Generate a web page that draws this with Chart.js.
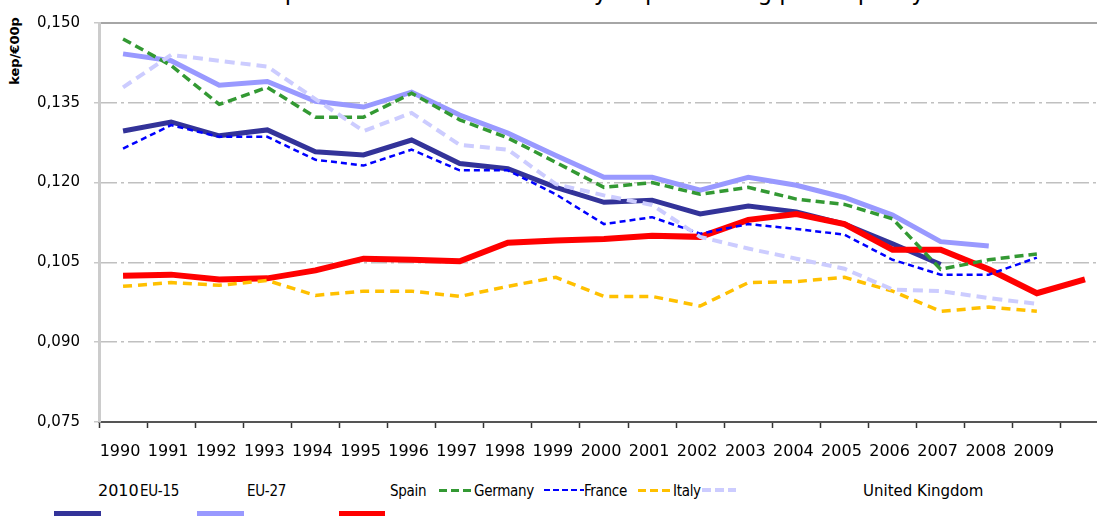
<!DOCTYPE html>
<html>
<head>
<meta charset="utf-8">
<script src="https://cdn.jsdelivr.net/npm/chart.js@4.4.0/dist/chart.umd.min.js"></script>
<style>
  html, body { margin: 0; padding: 0; background: #fff; }
  body { width: 1097px; height: 516px; overflow: hidden; position: relative; font-family: "DejaVu Sans", sans-serif; color: #000; }
  #wrap { position: absolute; left: 0; top: 0; width: 1115px; height: 460px; }
  .title { position: absolute; top: -20px; left: 238px; font-size: 23px; line-height: 24px; white-space: nowrap; }
  .ytitle { position: absolute; left: -35px; top: 43px; width: 100px; height: 16px; line-height: 16px; text-align: center;
            font-size: 13px; font-weight: bold; transform: rotate(-90deg); white-space: nowrap; }
  .lg { position: absolute; top: 482px; font-size: 15px; line-height: 18px; white-space: nowrap; }
  .narrow { font-family: "Liberation Sans Narrow", "DejaVu Sans Condensed", sans-serif; letter-spacing: -0.3px; }
  .dash { position: absolute; top: 489px; height: 3px; }
  .bar { position: absolute; top: 511px; height: 6px; }
</style>
</head>
<body>
<div class="title">Temperature corrected intensity at purchasing power parity</div>
<div class="ytitle">kep/€00p</div>
<div id="wrap"><canvas id="chart" width="1115" height="460"></canvas></div>

<!-- legend row, laid out like the original -->
<div class="lg" style="left:98px;font-size:16px;">2010</div>
<div class="lg narrow" style="left:140px;">EU-15</div>
<div class="lg narrow" style="left:247px;">EU-27</div>
<div class="lg narrow" style="left:390px;">Spain</div>
<div class="dash" style="left:439px;width:35px;background:repeating-linear-gradient(to right,#339933 0 8px,transparent 8px 12px);"></div>
<div class="lg narrow" style="left:474px;">Germany</div>
<div class="dash" style="left:544px;width:40px;height:2px;background:repeating-linear-gradient(to right,#0000ff 0 6px,transparent 6px 9px);"></div>
<div class="lg narrow" style="left:584px;">France</div>
<div class="dash" style="left:638px;width:35px;background:repeating-linear-gradient(to right,#ffc000 0 8px,transparent 8px 12px);"></div>
<div class="lg narrow" style="left:673px;">Italy</div>
<div class="dash" style="left:702px;width:34px;height:4px;top:488px;background:repeating-linear-gradient(to right,#ccccff 0 9px,transparent 9px 13px);"></div>
<div class="lg" style="left:863px;">United Kingdom</div>
<div class="bar" style="left:54px;width:47px;background:#333399;"></div>
<div class="bar" style="left:197px;width:47px;background:#9999ff;"></div>
<div class="bar" style="left:339px;width:46px;background:#ff0000;"></div>

<script>
// 年份
const years = ['1990', '1991', '1992', '1993', '1994', '1995', '1996', '1997', '1998', '1999', '2000',
    '2001', '2002', '2003', '2004', '2005', '2006', '2007', '2008', '2009', '2010'];

// 各國數值 (kep/€00p)
const eu15 = [0.1297, 0.1314, 0.1288, 0.1299, 0.1258, 0.1252, 0.1280, 0.1236, 0.1226, 0.1191, 0.1163,
    0.1167, 0.1141, 0.1156, 0.1145, 0.1122, 0.1085, 0.1046, null, null, null];
const eu27 = [0.1442, 0.1429, 0.1383, 0.1390, 0.1353, 0.1342, 0.1370, 0.1327, 0.1293, 0.1251, 0.1210,
    0.1210, 0.1186, 0.1210, 0.1195, 0.1172, 0.1139, 0.1089, 0.1081, null, null];
const spain = [0.1025, 0.1027, 0.1018, 0.1020, 0.1035, 0.1057, 0.1055, 0.1052, 0.1087, 0.1091, 0.1094,
    0.1100, 0.1098, 0.1130, 0.1141, 0.1122, 0.1074, 0.1074, 0.1037, 0.0992, 0.1018];
const germany = [0.1470, 0.1420, 0.1347, 0.1379, 0.1323, 0.1323, 0.1368, 0.1318, 0.1284, 0.1238, 0.1191,
    0.1200, 0.1178, 0.1191, 0.1169, 0.1159, 0.1132, 0.1037, 0.1055, 0.1066, null];
const france = [0.1264, 0.1308, 0.1286, 0.1286, 0.1243, 0.1232, 0.1262, 0.1223, 0.1223, 0.1178, 0.1122,
    0.1135, 0.1104, 0.1122, 0.1113, 0.1102, 0.1055, 0.1027, 0.1027, 0.1059, null];
const italy = [0.1005, 0.1012, 0.1007, 0.1016, 0.0988, 0.0996, 0.0996, 0.0986, 0.1005, 0.1022, 0.0986,
    0.0986, 0.0968, 0.1012, 0.1014, 0.1022, 0.0996, 0.0958, 0.0966, 0.0958, null];
const uk = [0.1379, 0.1440, 0.1429, 0.1418, 0.1357, 0.1297, 0.1331, 0.1271, 0.1262, 0.1197, 0.1176,
    0.1158, 0.1098, 0.1076, 0.1057, 0.1038, 0.0999, 0.0996, 0.0983, 0.0972, null];

// 軸刻度
const yMin = 0.075;
const yMax = 0.150;
const yStep = 0.015;

function line(label, data, color, width, dash, order) {
    return {
        label: label,
        data: data,
        borderColor: color,
        backgroundColor: color,
        borderWidth: width,
        borderDash: dash,
        pointRadius: 0,
        tension: 0,
        fill: false,
        order: order
    };
}

new Chart(document.getElementById('chart'), {
    type: 'line',
    data: {
        labels: years,
        datasets: [
            line('EU-15', eu15, '#333399', 5, [], 7),
            line('EU-27', eu27, '#9999ff', 5, [], 6),
            line('Spain', spain, '#ff0000', 6, [], 5),
            line('Germany', germany, '#339933', 3.5, [9, 5], 4),
            line('France', france, '#0000ff', 2.5, [6, 4], 3),
            line('Italy', italy, '#ffc000', 3.5, [9, 6], 2),
            line('United Kingdom', uk, '#ccccff', 4, [10, 6], 1)
        ]
    },
    options: {
        responsive: false,
        animation: false,
        devicePixelRatio: 1,
        layout: { padding: { top: 19, left: 0, right: 6, bottom: 0 } },
        plugins: {
            legend: { display: false },
            tooltip: { enabled: false },
            title: { display: false }
        },
        scales: {
            x: {
                type: 'category',
                offset: true,
                afterFit: function (s) { s.height = 38; },
                grid: {
                    offset: true,
                    drawOnChartArea: false,
                    drawTicks: true,
                    tickLength: 6,
                    tickColor: '#333333',
                    tickWidth: 1.5
                },
                border: { color: '#555555', width: 2 },
                ticks: {
                    autoSkip: false,
                    maxRotation: 0,
                    padding: 14,
                    labelOffset: -3,
                    color: '#000',
                    font: { family: 'DejaVu Sans', size: 16 },
                    callback: function (v, i) { return years[i] === '2010' ? '' : years[i]; }
                }
            },
            x2: {
                type: 'category',
                position: 'top',
                offset: true,
                afterFit: function (s) { s.height = 0; },
                grid: { display: false, drawTicks: false },
                border: { display: true, color: '#a6a6a6', width: 2 },
                ticks: { display: false }
            },
            y: {
                min: yMin,
                max: yMax,
                afterFit: function (s) { s.width = 99; },
                grid: {
                    color: '#c0c0c0',
                    lineWidth: 1.5,
                    tickLength: 5,
                    tickColor: '#c8c8c8',
                    tickBorderDash: []
                },
                border: { color: '#cccccc', width: 3, dash: [16, 4, 3, 4] },
                ticks: {
                    stepSize: yStep,
                    padding: 14,
                    color: '#000',
                    font: { family: 'DejaVu Sans', size: 15 },
                    callback: function (v) { return v.toFixed(3).replace('.', ','); }
                }
            }
        }
    }
});
</script>
</body>
</html>
